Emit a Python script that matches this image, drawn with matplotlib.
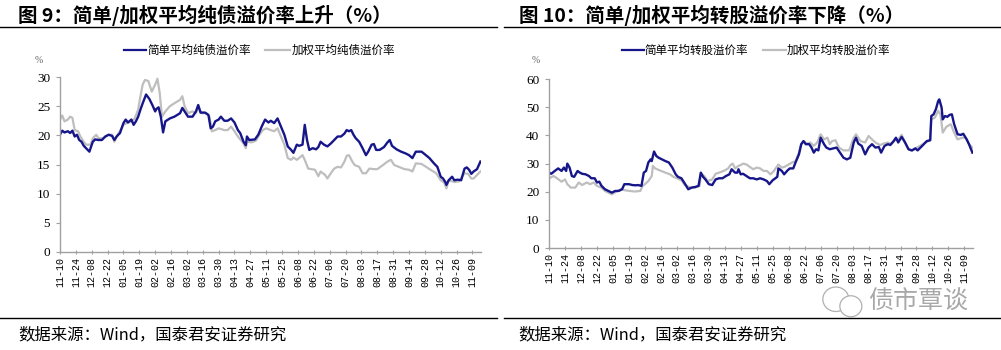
import matplotlib
matplotlib.use("Agg")
import matplotlib.pyplot as plt
import matplotlib.dates as mdates
from matplotlib.patches import Ellipse
import pandas as pd

CJK = ['Noto Sans CJK SC', 'DejaVu Sans']
START = '2016-11-10'

# x tick labels (every two weeks)
tick_labels = ['11-10', '11-24', '12-08', '12-22', '01-05', '01-19', '02-02', '02-16',
               '03-02', '03-16', '03-30', '04-13', '04-27', '05-11', '05-25', '06-08',
               '06-22', '07-06', '07-20', '08-03', '08-17', '08-31', '09-14', '09-28',
               '10-12', '10-26', '11-09']

# Fig 9: pure bond premium (days since 2016-11-10, value %)
bond_simple_day = [0, 2, 4, 7, 9, 11, 13, 15, 17, 19, 21, 24, 26, 27, 29, 31, 34, 37, 40, 43,
                   46, 48, 50, 53, 56, 58, 60, 63, 65, 67, 69, 71, 73, 76, 79, 82, 84, 85, 87, 89,
                   91, 93, 97, 101, 106, 108, 110, 113, 117, 120, 122, 124, 128, 131, 133, 135, 137, 140, 142, 145,
                   148, 151, 154, 157, 159, 162, 164, 165, 167, 172, 175, 178, 181, 184, 186, 189, 192, 195, 198, 201,
                   204, 206, 209, 211, 214, 216, 218, 220, 223, 226, 228, 230, 233, 236, 239, 242, 245, 248, 251, 253,
                   255, 257, 259, 261, 264, 267, 270, 272, 275, 277, 279, 282, 286, 289, 291, 293, 297, 301, 305, 308,
                   311, 314, 319, 321, 326, 330, 333, 336, 338, 340, 341, 343, 346, 348, 351, 354, 357, 359, 361, 363,
                   365, 368, 371]
bond_simple = [20.1, 20.8, 20.5, 20.7, 20.4, 20.8, 19.8, 20.1, 19.2, 18.9, 18.2, 17.6, 17.2, 17.8, 18.9, 19.3, 19.2, 19.2, 19.8, 20.1,
               19.9, 19.2, 19.8, 20.4, 22.1, 22.7, 22.2, 22.7, 21.8, 22.4, 23.2, 24.4, 25.5, 27.0, 26.2, 25.0, 24.1, 24.5, 24.8, 23.2,
               20.5, 22.4, 22.9, 23.2, 23.8, 24.7, 24.1, 23.2, 23.2, 24.1, 25.2, 23.9, 23.9, 23.5, 21.2, 21.5, 22.4, 22.7, 23.2, 22.5,
               22.5, 22.9, 22.2, 20.9, 20.4, 18.9, 18.3, 19.8, 19.2, 19.3, 20.1, 21.5, 22.7, 22.2, 22.5, 22.1, 22.9, 21.5, 20.1, 18.1,
               17.5, 17.0, 18.4, 18.2, 18.4, 21.8, 19.2, 17.5, 17.8, 17.6, 18.0, 18.9, 18.4, 18.1, 18.6, 19.2, 19.8, 19.8, 20.3, 20.9,
               20.7, 20.9, 20.1, 19.5, 18.9, 17.8, 16.6, 17.2, 18.4, 18.5, 17.5, 17.5, 18.0, 18.8, 19.2, 18.2, 17.6, 17.2, 16.9, 16.6,
               16.1, 17.2, 17.2, 16.9, 16.1, 15.2, 14.6, 12.9, 12.6, 12.0, 11.5, 12.3, 12.9, 12.3, 12.4, 12.3, 14.3, 14.5, 14.1, 13.4,
               13.8, 14.2, 15.5]
bond_weighted_day = [0, 2, 4, 7, 9, 11, 13, 16, 18, 21, 23, 27, 29, 32, 34, 38, 43, 46, 48, 51,
                     56, 59, 63, 66, 69, 71, 73, 75, 78, 81, 84, 86, 88, 90, 93, 97, 101, 106, 108, 110,
                     113, 117, 120, 122, 125, 129, 132, 134, 137, 140, 145, 148, 151, 154, 157, 162, 164, 165, 169, 173,
                     176, 179, 182, 186, 189, 192, 195, 198, 201, 204, 206, 209, 211, 214, 216, 219, 222, 225, 228, 230,
                     234, 236, 239, 242, 245, 248, 251, 253, 255, 258, 260, 264, 267, 270, 273, 277, 280, 285, 289, 292,
                     295, 299, 304, 308, 311, 314, 319, 323, 327, 332, 336, 339, 341, 343, 348, 352, 357, 360, 363, 365,
                     368, 371]
bond_weighted = [22.7, 23.4, 22.4, 22.7, 23.2, 23.0, 20.9, 20.7, 19.8, 18.9, 18.4, 18.4, 19.5, 20.1, 19.5, 19.5, 20.1, 20.1, 18.9, 20.1,
                 21.8, 22.1, 22.4, 22.9, 24.4, 26.7, 28.7, 29.5, 29.3, 27.5, 28.7, 29.7, 27.3, 23.2, 24.1, 25.0, 25.5, 26.1, 26.7, 25.0,
                 23.8, 24.1, 23.8, 25.0, 23.8, 23.8, 23.2, 20.7, 20.9, 21.2, 20.9, 20.9, 21.5, 20.7, 19.8, 18.6, 17.8, 18.9, 18.8, 19.1,
                 20.1, 20.9, 21.2, 20.9, 20.7, 21.2, 19.8, 18.4, 16.1, 15.8, 16.2, 15.8, 16.1, 16.6, 15.8, 14.3, 14.2, 14.1, 13.0, 13.8,
                 13.2, 12.6, 13.5, 14.3, 14.6, 14.5, 15.5, 16.5, 16.6, 15.5, 14.9, 14.6, 13.5, 13.5, 14.3, 14.2, 14.2, 14.9, 15.5, 15.8,
                 14.9, 14.6, 14.2, 14.1, 13.8, 15.2, 15.1, 14.6, 14.1, 13.5, 12.3, 11.9, 10.9, 12.3, 12.0, 12.1, 13.5, 13.4, 12.6, 12.6,
                 13.2, 13.8]

# Fig 10: conversion premium (days since 2016-11-10, value %)
conv_simple_day = [0, 2, 5, 8, 11, 13, 15, 16, 18, 20, 22, 25, 27, 29, 32, 35, 37, 40, 42, 44,
                   46, 49, 52, 55, 58, 61, 64, 66, 70, 73, 76, 78, 81, 83, 85, 87, 89, 90, 92, 94,
                   96, 99, 102, 105, 108, 111, 113, 116, 119, 122, 125, 128, 131, 133, 135, 137, 140, 143, 146, 149,
                   152, 155, 158, 160, 163, 165, 166, 168, 170, 173, 176, 179, 182, 185, 188, 191, 193, 196, 200, 201,
                   204, 206, 209, 211, 214, 216, 219, 221, 223, 225, 228, 230, 232, 234, 236, 238, 241, 243, 246, 249,
                   252, 255, 258, 261, 264, 267, 269, 271, 274, 277, 280, 283, 286, 289, 291, 294, 297, 299, 302, 304,
                   306, 309, 312, 315, 318, 321, 323, 327, 331, 334, 335, 337, 339, 341, 342, 344, 345, 347, 349, 351,
                   353, 355, 358, 361, 363, 366, 368, 371]
conv_simple = [26.8, 26.4, 27.4, 28.3, 27.4, 28.6, 27.4, 30.0, 28.6, 25.6, 25.3, 27.4, 26.8, 26.4, 26.2, 25.6, 24.8, 24.8, 23.3, 23.6,
               22.1, 20.9, 20.3, 19.7, 20.3, 20.3, 20.9, 22.7, 22.7, 22.4, 22.3, 22.4, 22.1, 26.8, 27.4, 30.4, 31.5, 30.9, 34.3, 32.7,
               32.1, 31.5, 30.9, 30.4, 28.6, 26.2, 25.3, 24.8, 22.9, 20.9, 21.5, 21.7, 22.1, 26.8, 25.3, 24.4, 22.7, 22.4, 24.4, 24.8,
               24.8, 25.6, 26.2, 28.0, 26.8, 26.8, 28.0, 26.2, 26.4, 25.6, 24.8, 24.8, 24.4, 24.8, 24.4, 23.8, 22.7, 24.1, 25.3, 28.3,
               27.4, 26.2, 27.6, 28.3, 28.3, 30.4, 33.3, 36.9, 38.0, 36.9, 36.9, 35.7, 33.9, 35.1, 34.7, 39.2, 36.9, 35.7, 35.1, 35.4,
               35.7, 33.9, 32.1, 31.5, 32.1, 37.5, 39.2, 37.1, 36.3, 33.3, 35.7, 36.9, 35.7, 35.9, 33.9, 36.3, 36.9, 36.6, 38.0, 39.2,
               37.5, 39.5, 37.5, 35.1, 34.7, 35.4, 34.7, 36.3, 38.0, 38.3, 46.9, 47.5, 49.3, 52.2, 52.8, 49.9, 45.7, 46.9, 46.6, 47.3,
               47.5, 44.0, 40.4, 40.2, 40.6, 38.6, 36.9, 33.9]
conv_weighted_day = [0, 4, 7, 11, 14, 16, 19, 23, 26, 29, 33, 36, 39, 42, 46, 49, 52, 55, 59, 63,
                     67, 71, 75, 80, 82, 84, 87, 90, 91, 93, 97, 102, 106, 109, 112, 116, 119, 124, 128, 132,
                     133, 136, 139, 143, 146, 149, 153, 157, 159, 161, 163, 166, 168, 170, 173, 176, 179, 182, 185, 188,
                     191, 194, 197, 201, 204, 206, 210, 213, 216, 219, 221, 223, 226, 229, 232, 235, 238, 241, 244, 246,
                     248, 251, 254, 258, 263, 267, 269, 273, 277, 280, 283, 286, 290, 293, 297, 300, 303, 306, 309, 312,
                     315, 318, 321, 325, 330, 334, 335, 338, 341, 343, 345, 348, 352, 355, 358, 362, 365, 368, 371]
conv_weighted = [24.8, 25.6, 24.8, 23.6, 24.4, 22.7, 21.5, 21.5, 23.3, 22.4, 23.3, 22.7, 23.3, 22.1, 21.5, 20.3, 19.7, 19.1, 20.1, 20.9,
                 20.5, 20.3, 20.1, 20.3, 22.1, 22.7, 23.8, 25.6, 29.2, 28.3, 27.6, 26.8, 26.2, 25.3, 24.8, 24.1, 22.4, 21.5, 21.5, 22.1,
                 26.4, 25.6, 23.8, 24.4, 26.4, 26.8, 27.4, 28.3, 29.5, 30.0, 28.3, 29.2, 29.5, 30.0, 29.7, 28.8, 28.0, 28.6, 28.3, 27.4,
                 27.4, 26.2, 27.4, 29.7, 28.6, 28.8, 29.7, 30.4, 30.9, 33.9, 36.9, 38.0, 37.1, 37.5, 36.3, 37.5, 40.4, 38.6, 39.2, 36.9,
                 38.0, 38.3, 35.7, 34.7, 34.7, 39.2, 40.4, 38.0, 37.5, 39.8, 38.6, 37.5, 36.6, 37.1, 37.5, 36.9, 38.3, 38.6, 40.2, 37.5,
                 35.1, 34.5, 35.4, 36.3, 37.5, 38.3, 45.7, 46.3, 48.7, 47.5, 41.0, 43.0, 44.0, 41.0, 38.6, 39.2, 39.2, 36.9, 35.7]

BLUE = '#16168A'
GRAY = '#BEBEBE'
AXIS = '#A0A0A0'


def to_dates(days):
    return pd.Timestamp(START) + pd.to_timedelta(days, unit='D')


def draw_panel(ax, simple_day, simple, weighted_day, weighted, ymax, ystep):
    ax.plot(to_dates(weighted_day), weighted, color=GRAY, lw=1.6)
    ax.plot(to_dates(simple_day), simple, color=BLUE, lw=1.7)
    ticks = [pd.Timestamp(START) + pd.Timedelta(days=14 * i) for i in range(len(tick_labels))]
    ax.set_xticks(ticks)
    ax.set_xticklabels(tick_labels, rotation=90, family='Liberation Mono', fontsize=7.2)
    ax.set_xlim(pd.Timestamp(START), pd.Timestamp(START) + pd.Timedelta(days=371.5))
    ax.set_ylim(0, ymax)
    ax.set_yticks(range(0, ymax + 1, ystep))
    ax.tick_params(axis='y', labelsize=9.5, length=3, color=AXIS, direction='out', pad=4)
    ax.tick_params(axis='x', length=3, color=AXIS, direction='inout', pad=2)
    for lab in ax.get_yticklabels():
        lab.set_family('Liberation Serif')
    for s in ['top', 'right']:
        ax.spines[s].set_visible(False)
    for s in ['left', 'bottom']:
        ax.spines[s].set_color(AXIS)
        ax.spines[s].set_linewidth(1.0)


fig = plt.figure(figsize=(10.01, 3.5), dpi=100)

ax1 = fig.add_axes([0.0599, 0.280, 0.4206, 0.500])
draw_panel(ax1, bond_simple_day, bond_simple, bond_weighted_day, bond_weighted, 30, 5)
ax2 = fig.add_axes([0.5485, 0.291, 0.4235, 0.483])
draw_panel(ax2, conv_simple_day, conv_simple, conv_weighted_day, conv_weighted, 60, 10)

# titles and rules
fig.text(0.018, 0.957, '图 9：简单/加权平均纯债溢价率上升（%）', family=CJK, fontsize=14,
         fontweight='bold', va='center', ha='left')
fig.text(0.518, 0.957, '图 10：简单/加权平均转股溢价率下降（%）', family=CJK, fontsize=14,
         fontweight='bold', va='center', ha='left')
for x0, x1 in [(0.0, 0.497), (0.503, 1.0)]:
    fig.add_artist(plt.Line2D([x0, x1], [0.923, 0.923], color='black', lw=1.0))
    fig.add_artist(plt.Line2D([x0, x1], [0.091, 0.091], color='black', lw=1.0))

fig.text(0.018, 0.043, '数据来源：Wind，国泰君安证券研究', family=CJK, fontsize=11.8, va='center', ha='left')
fig.text(0.518, 0.043, '数据来源：Wind，国泰君安证券研究', family=CJK, fontsize=11.8, va='center', ha='left')

# legends
legend_items = [
    (0.124, 0.146, BLUE, '简单平均纯债溢价率'),
    (0.265, 0.290, GRAY, '加权平均纯债溢价率'),
    (0.621, 0.643, BLUE, '简单平均转股溢价率'),
    (0.762, 0.785, GRAY, '加权平均转股溢价率'),
]
for x0, x1, c, label in legend_items:
    fig.add_artist(plt.Line2D([x0, x1], [0.857, 0.857], color=c, lw=1.6))
    fig.text(x1 + 0.001, 0.857, label, family=CJK, fontsize=8.3, va='center', ha='left')

# % unit labels
fig.text(0.035, 0.828, '%', fontsize=7, color='#666666', family='Liberation Serif', va='center')
fig.text(0.531, 0.828, '%', fontsize=7, color='#666666', family='Liberation Serif', va='center')

# watermark
fig.add_artist(Ellipse((0.835, 0.145), 0.026, 0.07, transform=fig.transFigure,
                       fill=False, ec='#B0B0B0', lw=0.9))
fig.add_artist(Ellipse((0.850, 0.125), 0.022, 0.06, transform=fig.transFigure,
                       fc='white', ec='#B0B0B0', lw=0.9))
fig.text(0.867, 0.137, '债市覃谈', family=CJK, fontsize=18, color='#A8A8A8',
         fontweight='light', va='center', ha='left')

fig.savefig('out.png', dpi=100)
